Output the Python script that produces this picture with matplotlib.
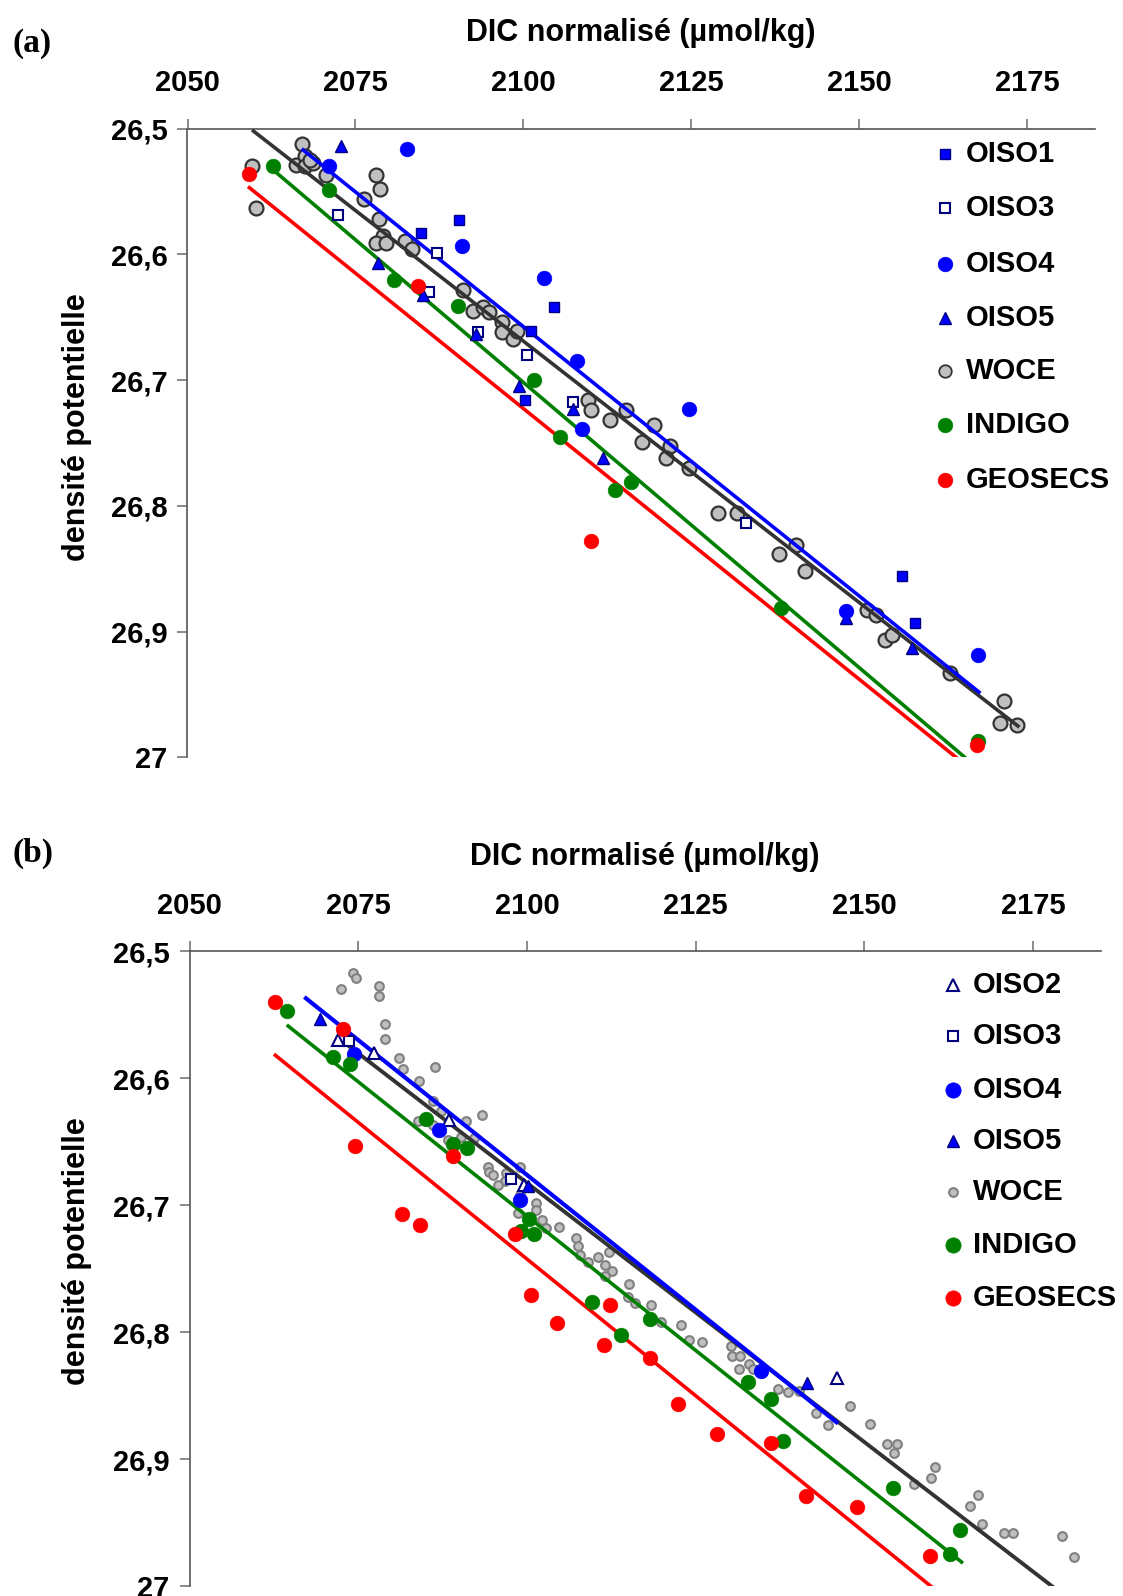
import matplotlib
matplotlib.use("Agg")
import matplotlib.pyplot as plt

plt.rcParams['font.family'] = ['Liberation Sans', 'DejaVu Sans']
plt.rcParams['font.weight'] = 'bold'

# ---------------- data: panel (a) ----------------
oiso1_a_x = [2084.7, 2090.4, 2104.6, 2101.1, 2100.2, 2156.4, 2158.2]
oiso1_a_y = [26.583, 26.573, 26.642, 26.661, 26.716, 26.856, 26.893]

oiso3_a_x = [2072.4, 2087.1, 2086.0, 2093.3, 2100.5, 2107.3, 2133.1]
oiso3_a_y = [26.569, 26.599, 26.630, 26.662, 26.680, 26.717, 26.814]

oiso4_a_x = [2071.1, 2082.6, 2090.9, 2103.0, 2108.0, 2108.7, 2124.6, 2148.0, 2167.7]
oiso4_a_y = [26.530, 26.516, 26.593, 26.619, 26.685, 26.739, 26.723, 26.884, 26.919]

oiso5_a_x = [2072.8, 2078.4, 2085.1, 2093.0, 2099.4, 2107.4, 2111.9, 2148.0, 2157.8]
oiso5_a_y = [26.514, 26.607, 26.632, 26.663, 26.705, 26.723, 26.762, 26.889, 26.913]

woce_a_x = [2059.6, 2060.2, 2066.2, 2067.0, 2067.5, 2067.5, 2068.7, 2068.2, 2070.6, 2076.2,
            2078.0, 2078.6, 2078.5, 2079.1, 2078.0, 2079.5, 2082.4, 2083.4, 2091.0, 2092.5,
            2094.0, 2094.8, 2096.8, 2096.8, 2098.4, 2099.0, 2109.6, 2110.0, 2112.9, 2115.3,
            2119.5, 2117.6, 2121.8, 2121.2, 2124.7, 2128.9, 2131.8, 2138.1, 2140.6, 2141.9,
            2151.1, 2152.5, 2153.8, 2154.9, 2163.5, 2171.5, 2170.9, 2173.5]
woce_a_y = [26.530, 26.563, 26.529, 26.512, 26.522, 26.530, 26.527, 26.525, 26.537, 26.556,
            26.537, 26.548, 26.572, 26.585, 26.591, 26.591, 26.589, 26.596, 26.628, 26.645,
            26.642, 26.646, 26.654, 26.662, 26.667, 26.661, 26.716, 26.724, 26.732, 26.724,
            26.736, 26.749, 26.752, 26.762, 26.770, 26.806, 26.806, 26.838, 26.831, 26.852,
            26.883, 26.887, 26.907, 26.903, 26.933, 26.955, 26.973, 26.974]

indigo_a_x = [2062.7, 2071.0, 2080.7, 2090.3, 2101.5, 2105.4, 2113.6, 2116.0, 2138.4, 2167.7]
indigo_a_y = [26.530, 26.549, 26.620, 26.641, 26.700, 26.745, 26.787, 26.781, 26.881, 26.987]

geosecs_a_x = [2059.2, 2084.3, 2110.1, 2167.5]
geosecs_a_y = [26.536, 26.625, 26.828, 26.990]

# regression lines (end points) panel (a)
line_oiso_a_x = [2067.0, 2168.0]
line_oiso_a_y = [26.516, 26.949]
line_woce_a_x = [2059.6, 2173.8]
line_woce_a_y = [26.501, 26.976]
line_indigo_a_x = [2062.8, 2167.0]
line_indigo_a_y = [26.533, 27.006]
line_geosecs_a_x = [2059.0, 2166.0]
line_geosecs_a_y = [26.546, 27.007]

# ---------------- data: panel (b) ----------------
oiso2_b_x = [2072.0, 2077.3, 2088.4, 2099.6, 2146.0]
oiso2_b_y = [26.570, 26.580, 26.633, 26.684, 26.836]
oiso3_b_x = [2073.6, 2097.6]
oiso3_b_y = [26.571, 26.679]
oiso4_b_x = [2074.4, 2087.0, 2098.9, 2134.7]
oiso4_b_y = [26.581, 26.641, 26.696, 26.831]
oiso5_b_x = [2069.3, 2100.1, 2141.5]
oiso5_b_y = [26.553, 26.685, 26.840]

woce_b_x = [2074.2, 2074.6, 2072.5, 2078.1, 2078.1, 2078.9, 2078.9, 2081.0, 2081.6, 2084.0,
            2086.3, 2086.0, 2087.3, 2091.0, 2093.4, 2083.8, 2086.0, 2088.3, 2090.2, 2092.1,
            2094.2, 2094.3, 2094.9, 2099.0, 2096.9, 2096.7, 2095.7, 2099.0, 2101.3, 2101.3,
            2098.6, 2102.2, 2102.8, 2104.8, 2107.3, 2107.5, 2107.8, 2109.0, 2110.5, 2111.6,
            2112.2, 2112.6, 2111.6, 2115.1, 2114.9, 2116.0, 2118.4, 2119.8, 2122.8, 2124.0,
            2126.0, 2130.2, 2130.4, 2131.5, 2132.9, 2131.4, 2133.5, 2137.2, 2138.7, 2140.3,
            2142.8, 2144.6, 2147.9, 2150.8, 2153.4, 2154.9, 2154.4, 2160.5, 2159.9, 2157.3,
            2166.9, 2165.7, 2167.4, 2170.7, 2172.0, 2179.3, 2181.0]
woce_b_y = [26.517, 26.521, 26.530, 26.527, 26.535, 26.557, 26.569, 26.584, 26.593, 26.602,
            26.591, 26.618, 26.626, 26.634, 26.629, 26.634, 26.637, 26.649, 26.646, 26.647,
            26.670, 26.674, 26.676, 26.670, 26.675, 26.681, 26.684, 26.692, 26.698, 26.704,
            26.706, 26.712, 26.718, 26.717, 26.726, 26.732, 26.739, 26.745, 26.741, 26.747,
            26.737, 26.752, 26.756, 26.762, 26.772, 26.777, 26.779, 26.792, 26.794, 26.806,
            26.808, 26.811, 26.819, 26.819, 26.825, 26.829, 26.829, 26.845, 26.847, 26.846,
            26.864, 26.873, 26.858, 26.872, 26.888, 26.888, 26.895, 26.906, 26.915, 26.920,
            26.928, 26.937, 26.951, 26.958, 26.958, 26.961, 26.977]

indigo_b_x = [2064.4, 2071.2, 2073.8, 2085.0, 2089.1, 2091.1, 2099.1, 2100.3, 2101.1, 2109.7,
              2113.9, 2118.2, 2132.7, 2136.2, 2138.0, 2154.2, 2164.2, 2162.7]
indigo_b_y = [26.547, 26.583, 26.589, 26.632, 26.652, 26.655, 26.720, 26.711, 26.723, 26.776,
              26.802, 26.790, 26.839, 26.853, 26.886, 26.923, 26.956, 26.975]

geosecs_b_x = [2062.6, 2072.7, 2074.5, 2089.1, 2081.5, 2084.2, 2098.2, 2100.6, 2104.5, 2112.3,
               2111.4, 2118.2, 2122.4, 2128.2, 2136.2, 2141.4, 2148.9, 2159.7]
geosecs_b_y = [26.540, 26.561, 26.653, 26.661, 26.707, 26.716, 26.723, 26.771, 26.793, 26.779,
               26.810, 26.820, 26.857, 26.880, 26.887, 26.929, 26.938, 26.976]

line_oiso_b_x = [2067.0, 2146.1]
line_oiso_b_y = [26.536, 26.872]
line_woce_b_x = [2072.7, 2178.5]
line_woce_b_y = [26.571, 27.003]
line_indigo_b_x = [2064.4, 2164.6]
line_indigo_b_y = [26.558, 26.982]
line_geosecs_b_x = [2062.5, 2160.5]
line_geosecs_b_y = [26.581, 27.003]

xticks = [2050, 2075, 2100, 2125, 2150, 2175]
xticklabels = ['2050', '2075', '2100', '2125', '2150', '2175']
yticks = [26.5, 26.6, 26.7, 26.8, 26.9, 27.0]
yticklabels = ['26,5', '26,6', '26,7', '26,8', '26,9', '27']

xlabel = 'DIC normalisé (µmol/kg)'
ylabel = 'densité potentielle'

BLUE = '#0000FF'
NAVY = '#000080'
GREEN = '#008000'
RED = '#FF0000'
DARK = '#333333'

W, H = 1123, 1596
fig = plt.figure(figsize=(W / 100, H / 100), dpi=100)


def setup_axes(ax):
    ax.set_xlim(2050, 2185)
    ax.set_ylim(27.0, 26.5)
    ax.xaxis.tick_top()
    ax.set_xticks(xticks)
    ax.set_xticklabels(xticklabels)
    ax.set_yticks(yticks)
    ax.set_yticklabels(yticklabels)
    for s in ['right', 'bottom']:
        ax.spines[s].set_visible(False)
    for s in ['left', 'top']:
        ax.spines[s].set_color('#555555')
        ax.spines[s].set_linewidth(1.2)
    ax.tick_params(axis='x', direction='out', length=7.5, width=1.2, color='#777777',
                   pad=15, labelsize=21, top=True, bottom=False)
    ax.tick_params(axis='y', direction='out', length=7.5, width=1.2, color='#777777',
                   pad=7, labelsize=21)
    for lab in ax.get_xticklabels() + ax.get_yticklabels():
        lab.set_fontweight('bold')
    ax.patch.set_alpha(0)


def legend(ax, entries, xm, xt, ys):
    for (label, kw), y in zip(entries, ys):
        ax.plot([xm], [y], transform=ax.transAxes, clip_on=False, linestyle='none', **kw)
        ax.text(xt, y, label, transform=ax.transAxes, fontsize=21, fontweight='bold',
                va='center', ha='left')


# ---------------- panel (a) ----------------
axa = fig.add_axes([187.5 / W, 1 - 757.3 / H, (1094.6 - 187.5) / W, (757.3 - 128.7) / H])
setup_axes(axa)

sty_a = {
    'OISO1': dict(marker='s', ms=7.5, mfc=BLUE, mec=NAVY, mew=1.0),
    'OISO3': dict(marker='s', ms=6.5, mfc='white', mec=NAVY, mew=1.5),
    'OISO4': dict(marker='o', ms=10.5, mfc=BLUE, mec=BLUE, mew=0.5),
    'OISO5': dict(marker='^', ms=9, mfc=BLUE, mec=NAVY, mew=1.0),
    'WOCE': dict(marker='o', ms=10, mfc='#C0C0C0', mec=DARK, mew=1.6),
    'INDIGO': dict(marker='o', ms=10.5, mfc=GREEN, mec=GREEN, mew=0.5),
    'GEOSECS': dict(marker='o', ms=10.5, mfc=RED, mec=RED, mew=0.5),
}

axa.plot(woce_a_x, woce_a_y, linestyle='none', zorder=2, **sty_a['WOCE'])
axa.plot(line_woce_a_x, line_woce_a_y, color=DARK, lw=2.6, zorder=3, solid_capstyle='butt')
axa.plot(line_oiso_a_x, line_oiso_a_y, color=BLUE, lw=2.6, zorder=3, solid_capstyle='butt')
axa.plot(line_indigo_a_x, line_indigo_a_y, color=GREEN, lw=2.6, zorder=3, solid_capstyle='butt')
axa.plot(line_geosecs_a_x, line_geosecs_a_y, color=RED, lw=2.6, zorder=3, solid_capstyle='butt')
axa.plot(oiso3_a_x, oiso3_a_y, linestyle='none', zorder=4, **sty_a['OISO3'])
axa.plot(oiso1_a_x, oiso1_a_y, linestyle='none', zorder=4, **sty_a['OISO1'])
axa.plot(oiso5_a_x, oiso5_a_y, linestyle='none', zorder=4, **sty_a['OISO5'])
axa.plot(oiso4_a_x, oiso4_a_y, linestyle='none', zorder=4, **sty_a['OISO4'])
axa.plot(indigo_a_x, indigo_a_y, linestyle='none', zorder=4, **sty_a['INDIGO'])
axa.plot(geosecs_a_x, geosecs_a_y, linestyle='none', zorder=5, **sty_a['GEOSECS'])

leg_a_labels = ['OISO1', 'OISO3', 'OISO4', 'OISO5', 'WOCE', 'INDIGO', 'GEOSECS']
leg_a_style = dict(sty_a)
leg_a_style['WOCE'] = dict(marker='o', ms=9, mfc='#C0C0C0', mec=DARK, mew=1.3)
legend(axa, [(l, leg_a_style[l]) for l in leg_a_labels], 0.835, 0.858,
       [0.960, 0.874, 0.785, 0.699, 0.614, 0.529, 0.441])

# ---------------- panel (b) ----------------
axb = fig.add_axes([189.6 / W, 1 - 1586 / H, (1100.6 - 189.6) / W, (1586 - 951.3) / H])
setup_axes(axb)

sty_b = {
    'OISO2': dict(marker='^', ms=9, mfc='white', mec=NAVY, mew=1.5),
    'OISO3': dict(marker='s', ms=6.5, mfc='white', mec=NAVY, mew=1.5),
    'OISO4': dict(marker='o', ms=10.5, mfc=BLUE, mec=BLUE, mew=0.5),
    'OISO5': dict(marker='^', ms=9, mfc=BLUE, mec=NAVY, mew=1.0),
    'WOCE': dict(marker='o', ms=6.3, mfc='#C0C0C0', mec='#808080', mew=1.5),
    'INDIGO': dict(marker='o', ms=10.5, mfc=GREEN, mec=GREEN, mew=0.5),
    'GEOSECS': dict(marker='o', ms=10.5, mfc=RED, mec=RED, mew=0.5),
}

axb.plot(woce_b_x, woce_b_y, linestyle='none', zorder=2, **sty_b['WOCE'])
axb.plot(line_woce_b_x, line_woce_b_y, color=DARK, lw=2.8, zorder=3, solid_capstyle='butt')
axb.plot(line_oiso_b_x, line_oiso_b_y, color=BLUE, lw=3.0, zorder=3, solid_capstyle='butt')
axb.plot(line_indigo_b_x, line_indigo_b_y, color=GREEN, lw=2.6, zorder=3, solid_capstyle='butt')
axb.plot(line_geosecs_b_x, line_geosecs_b_y, color=RED, lw=2.6, zorder=3, solid_capstyle='butt')
axb.plot(oiso2_b_x, oiso2_b_y, linestyle='none', zorder=4, **sty_b['OISO2'])
axb.plot(oiso3_b_x, oiso3_b_y, linestyle='none', zorder=4, **sty_b['OISO3'])
axb.plot(oiso4_b_x, oiso4_b_y, linestyle='none', zorder=4, **sty_b['OISO4'])
axb.plot(oiso5_b_x, oiso5_b_y, linestyle='none', zorder=4, **sty_b['OISO5'])
axb.plot(indigo_b_x, indigo_b_y, linestyle='none', zorder=4, **sty_b['INDIGO'])
axb.plot(geosecs_b_x, geosecs_b_y, linestyle='none', zorder=5, **sty_b['GEOSECS'])

leg_b_labels = ['OISO2', 'OISO3', 'OISO4', 'OISO5', 'WOCE', 'INDIGO', 'GEOSECS']
leg_b_style = dict(sty_b)
leg_b_style['OISO4'] = dict(marker='o', ms=11, mfc=BLUE, mec=BLUE, mew=0.5)
leg_b_style['INDIGO'] = dict(marker='o', ms=11, mfc=GREEN, mec=GREEN, mew=0.5)
leg_b_style['GEOSECS'] = dict(marker='o', ms=11, mfc=RED, mec=RED, mew=0.5)
legend(axb, [(l, leg_b_style[l]) for l in leg_b_labels], 0.8375, 0.860,
       [0.947, 0.866, 0.782, 0.701, 0.620, 0.538, 0.453])

# ---------------- titles & labels ----------------
fig.text(641 / W, 1 - 40.7 / H, xlabel, fontsize=22, fontweight='bold', ha='center', va='baseline')
fig.text(645 / W, 1 - 865 / H, xlabel, fontsize=22, fontweight='bold', ha='center', va='baseline')
fig.text(77 / W, 1 - 427 / H, ylabel, fontsize=22, fontweight='bold', rotation=90,
         ha='center', va='center')
fig.text(77 / W, 1 - 1251 / H, ylabel, fontsize=22, fontweight='bold', rotation=90,
         ha='center', va='center')
fig.text(12.5 / W, 1 - 51.7 / H, '(a)', fontsize=24, fontweight='bold',
         family=['Liberation Serif', 'DejaVu Serif'], ha='left', va='baseline')
fig.text(12.5 / W, 1 - 861.7 / H, '(b)', fontsize=24, fontweight='bold',
         family=['Liberation Serif', 'DejaVu Serif'], ha='left', va='baseline')

fig.savefig('out.png', dpi=100)
